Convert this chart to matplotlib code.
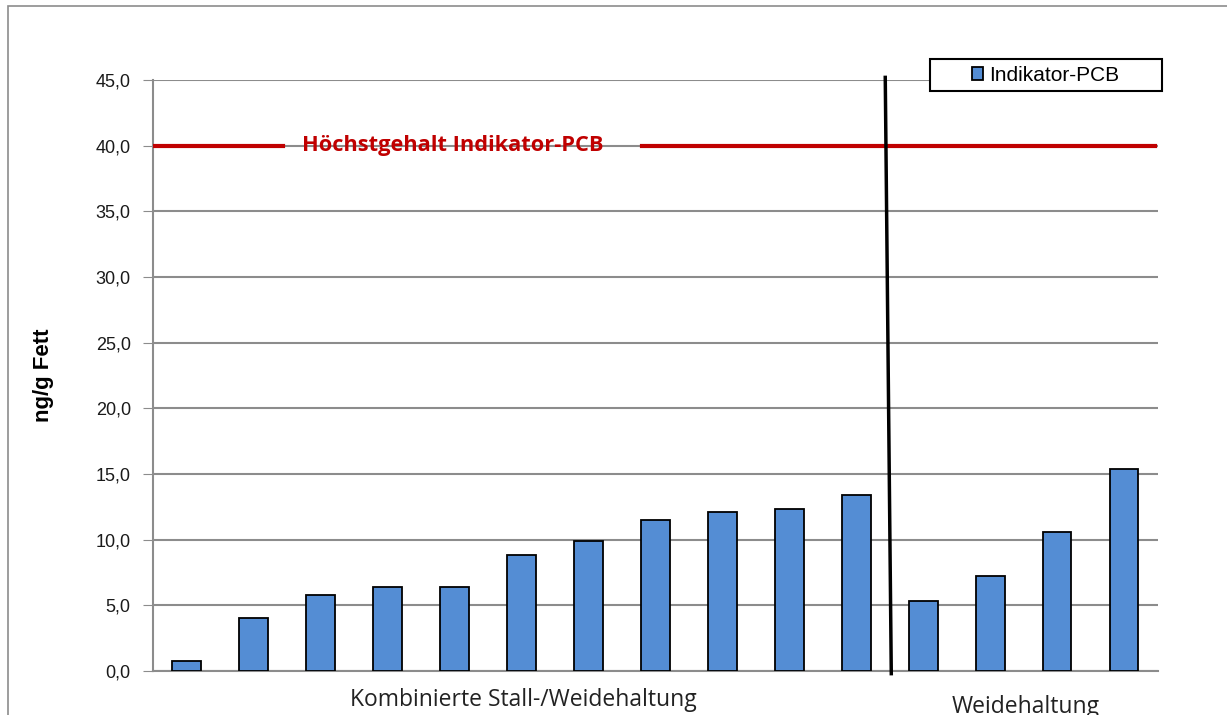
import matplotlib.pyplot as plt
from matplotlib.patches import Rectangle
from matplotlib.ticker import FuncFormatter

# Indikator-PCB in ng/g Fett, links kombiniert, rechts Weidehaltung
werte_kombiniert = [0.8, 4.0, 5.8, 6.4, 6.4, 8.8, 9.9, 11.5, 12.1, 12.3, 13.4]
werte_weide = [5.3, 7.2, 10.6, 15.4]
gruppen = ["Kombinierte Stall-/Weidehaltung", "Weidehaltung"]
hoechstgehalt = 40.0
y_ticks = [0, 5, 10, 15, 20, 25, 30, 35, 40, 45]

werte = werte_kombiniert + werte_weide
x = list(range(len(werte)))
n_komb = len(werte_kombiniert)

fig = plt.figure(figsize=(12.27, 7.15), dpi=100)
ax = fig.add_axes([0.1247, 0.0615, 0.819, 0.8266])

# grauer Rahmen wie im Original
fig.patches.append(Rectangle((8 / 1227, -0.1), 1.2, 1.1 - 6 / 715,
                             transform=fig.transFigure, fill=False,
                             edgecolor="#8c8c8c", lw=1.2))

ax.bar(x, werte, width=0.42, color="#548DD4", edgecolor="black", lw=1.3,
       zorder=3, label="Indikator-PCB")

ax.set_xlim(-0.5, len(werte) - 0.5)
ax.set_ylim(0, 45)
ax.set_yticks(y_ticks)
ax.yaxis.set_major_formatter(FuncFormatter(lambda v, p: f"{v:.1f}".replace(".", ",")))
ax.set_xticks([])
ax.grid(axis="y", color="#8c8c8c", lw=1.5, zorder=0)
for s in ["top", "right"]:
    ax.spines[s].set_visible(False)
for s in ["left", "bottom"]:
    ax.spines[s].set_color("#8c8c8c")
    ax.spines[s].set_linewidth(1.5)
ax.tick_params(axis="y", length=7, color="#8c8c8c", labelsize=13, pad=9)
for t in ax.get_yticklabels():
    t.set_fontfamily("Liberation Sans")
    t.set_color("#1a1a1a")
ax.set_ylabel("ng/g Fett", fontsize=16, fontweight="bold",
              fontfamily="Liberation Sans", labelpad=30)

# Höchstgehalt
tr = ax.get_yaxis_transform()
ax.plot([0, 0.129], [hoechstgehalt] * 2, color="#C00000", lw=3, transform=tr, zorder=4)
ax.plot([0.487, 0.997], [hoechstgehalt] * 2, color="#C00000", lw=3, transform=tr,
        zorder=4, clip_on=False)
ax.text(0.2985, hoechstgehalt, "Höchstgehalt Indikator-PCB", transform=tr,
        color="#C00000", fontsize=15.7, fontweight="bold", fontfamily="Open Sans",
        ha="center", va="center")

# Trennlinie zwischen den Gruppen
ax.plot([n_komb - 0.57, n_komb - 0.48], [45.2, -0.2], color="black", lw=2.5,
        clip_on=False, zorder=5)

# Gruppenbeschriftung
ax.text((n_komb - 1) / 2 + 0.03, -2.2, gruppen[0], fontsize=16.5, fontfamily="Open Sans",
        ha="center", va="center", color="#222222")
ax.text(n_komb + (len(werte_weide) - 1) / 2 + 0.03, -2.75, gruppen[1], fontsize=16.5,
        fontfamily="Open Sans", ha="center", va="center", color="#222222")

# Legende mit breitem Rahmen wie im Original
ax.add_patch(Rectangle((0.773, 0.981), 0.231, 0.0545, transform=ax.transAxes,
                       facecolor="white", edgecolor="black", lw=1.5,
                       clip_on=False, zorder=6))
leg = ax.legend(loc="center", bbox_to_anchor=(0.888, 1.008), frameon=False,
                handlelength=0.55, handleheight=0.55, handletextpad=0.25,
                borderpad=0.0, prop={"family": "Liberation Sans", "size": 15})
leg.set_zorder(7)

fig.savefig("out.png", dpi=100)
